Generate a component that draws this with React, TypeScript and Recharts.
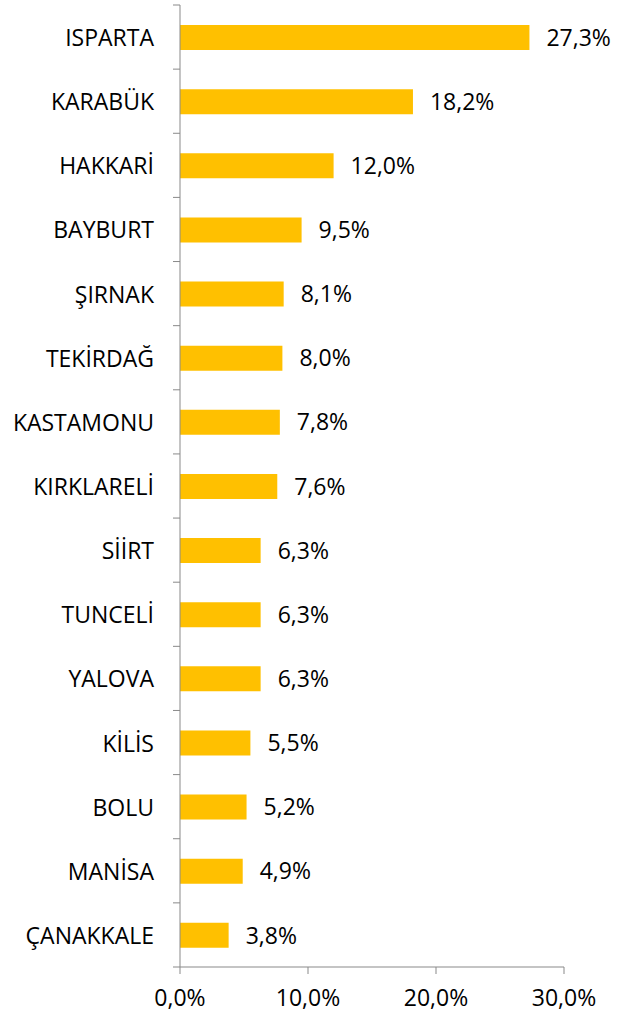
import { BarChart, Bar, XAxis, YAxis, LabelList } from "recharts";

const provinces = [
  "ISPARTA",
  "KARABÜK",
  "HAKKARİ",
  "BAYBURT",
  "ŞIRNAK",
  "TEKİRDAĞ",
  "KASTAMONU",
  "KIRKLARELİ",
  "SİİRT",
  "TUNCELİ",
  "YALOVA",
  "KİLİS",
  "BOLU",
  "MANİSA",
  "ÇANAKKALE",
];
const shares = [27.3, 18.2, 12.0, 9.5, 8.1, 8.0, 7.8, 7.6, 6.3, 6.3, 6.3, 5.5, 5.2, 4.9, 3.8];
const xTicks = [0, 10, 20, 30];

const data = provinces.map((name, i) => ({ name, value: shares[i] }));

const pct = (v: number) => v.toFixed(1).replace(".", ",") + "%";

const axisGray = "#898989";
const font = "'Open Sans', sans-serif";
const TICK_SIZE = 7;
const TICK_MARGIN = 19;

// Excel style: tick marks sit between the categories, not at their centres
function CategoryTick(props: any) {
  const { x, y, payload, index, visibleTicksCount } = props;
  const half = payload.offset || 0;
  const x2 = x + TICK_MARGIN + TICK_SIZE;
  const x1 = x2 - TICK_SIZE;
  return (
    <g>
      <line x1={x1} x2={x2} y1={y - half} y2={y - half} stroke={axisGray} />
      {index === visibleTicksCount - 1 && (
        <line x1={x1} x2={x2} y1={y + half} y2={y + half} stroke={axisGray} />
      )}
      <text
        x={x}
        y={y}
        textAnchor="end"
        dominantBaseline="central"
        fill="#000"
        fontSize={23}
        fontFamily={font}
      >
        {payload.value}
      </text>
    </g>
  );
}

export default function App() {
  return (
    <div style={{ position: "absolute", left: 0, top: 0 }}>
      <BarChart
        width={625}
        height={1017}
        data={data}
        layout="vertical"
        margin={{ top: 5, right: 61, bottom: 0, left: 0 }}
        style={{ fontFamily: font }}
      >
        <XAxis
          type="number"
          domain={[0, 30]}
          ticks={xTicks}
          tickFormatter={pct}
          height={50}
          stroke={axisGray}
          tickSize={TICK_SIZE}
          tickMargin={16}
          tick={{ fill: "#000", fontSize: 23 }}
        />
        <YAxis
          type="category"
          dataKey="name"
          width={180}
          stroke={axisGray}
          tickLine={false}
          tickSize={TICK_SIZE}
          tickMargin={TICK_MARGIN}
          interval={0}
          tick={<CategoryTick />}
        />
        <Bar dataKey="value" fill="#FFC000" barSize={25} isAnimationActive={false}>
          <LabelList
            dataKey="value"
            position="right"
            offset={17}
            formatter={(v: any) => pct(Number(v))}
            style={{ fill: "#000", fontSize: 23, fontFamily: font }}
          />
        </Bar>
      </BarChart>
    </div>
  );
}
